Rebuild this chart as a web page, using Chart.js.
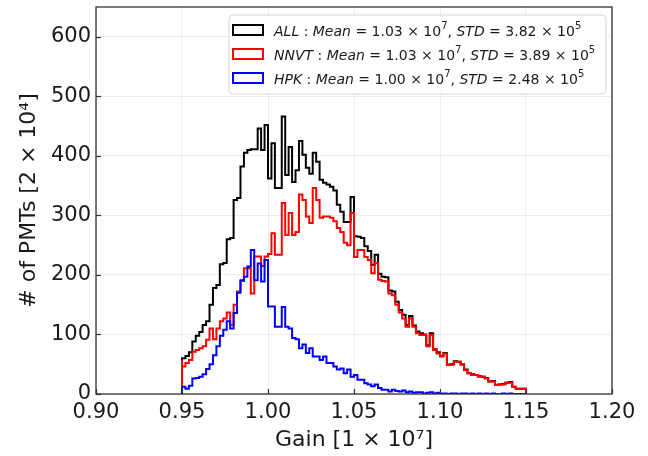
<!DOCTYPE html>
<html>
<head>
<meta charset="utf-8">
<script src="https://cdn.jsdelivr.net/npm/chart.js@4.4.0/dist/chart.umd.min.js"></script>
<style>
  html, body { margin: 0; padding: 0; background: #ffffff; }
  #wrap { width: 648px; height: 456px; }
</style>
</head>
<body>
<div id="wrap"><canvas id="c" width="648" height="456"></canvas></div>
<script>
// ---- data ----
const binEdges = [0.950,0.952,0.954,0.956,0.958,0.960,0.962,0.964,0.966,0.968,
  0.970,0.972,0.974,0.976,0.978,0.980,0.982,0.984,0.986,0.988,
  0.990,0.992,0.994,0.996,0.998,1.000,1.002,1.004,1.006,1.008,
  1.010,1.012,1.014,1.016,1.018,1.020,1.022,1.024,1.026,1.028,
  1.030,1.032,1.034,1.036,1.038,1.040,1.042,1.044,1.046,1.048,
  1.050,1.052,1.054,1.056,1.058,1.060,1.062,1.064,1.066,1.068,
  1.070,1.072,1.074,1.076,1.078,1.080,1.082,1.084,1.086,1.088,
  1.090,1.092,1.094,1.096,1.098,1.100,1.102,1.104,1.106,1.108,
  1.110,1.112,1.114,1.116,1.118,1.120,1.122,1.124,1.126,1.128,
  1.130,1.132,1.134,1.136,1.138,1.140,1.142,1.144,1.146,1.148,1.150];

const allCounts = [58,60,64,70,88,98,104,116,122,150,
  178,183,218,220,260,262,326,329,382,405,
  410,411,411,446,410,452,362,421,346,346,
  466,368,415,356,376,425,402,380,370,405,
  390,360,355,352,348,342,318,306,289,289,
  331,265,264,262,248,240,217,234,202,197,
  196,174,172,155,141,133,116,131,115,105,
  102,100,82,102,75,70,64,69,49,50,
  55,54,50,41,35,33,32,30,29,27,
  21,22,15,16,17,19,20,12,9,9];

const nnvtCounts = [57,46,52,57,71,74,77,80,91,110,
  92,110,122,127,137,116,150,172,190,211,
  211,169,231,231,215,231,235,270,234,234,
  321,267,304,267,272,335,326,298,287,346,
  326,296,298,298,296,290,279,272,254,250,
  304,230,242,242,230,225,203,220,192,190,
  189,169,166,150,137,127,113,127,113,102,
  99,99,80,99,74,68,63,68,49,49,
  54,54,49,40,35,32,32,29,29,26,
  21,21,15,16,16,19,19,12,9,9];

const hpkCounts = [2,12,9,14,26,27,29,33,42,50,
  65,80,98,108,122,110,136,170,191,197,
  214,242,191,219,189,225,147,147,113,113,
  146,113,110,94,92,77,83,69,77,63,
  63,57,63,52,52,46,41,43,35,41,
  29,32,24,24,18,16,13,16,10,7,
  7,4,7,5,4,6,3,4,2,3,
  3,1,2,3,1,2,1,1,0,1,
  1,0,1,1,0,1,0,1,0,1,
  0,1,0,0,1,0,1,0,0,0];

const seriesNames = ['ALL', 'NNVT', 'HPK'];
const seriesColors = ['#000000', '#ff0000', '#0000ff'];
const meanValues = ['1.03', '1.03', '1.00'];
const stdValues = ['3.82', '3.89', '2.48'];
const meanExp = '7';
const stdExp = '5';

const xTickValues = [0.90, 0.95, 1.00, 1.05, 1.10, 1.15, 1.20];
const yTickValues = [0, 100, 200, 300, 400, 500, 600];
const xTitle = 'Gain [1 \u00d7 10\u2077]';
const yTitle = '# of PMTs [2 \u00d7 10\u2074]';

// ---- build step outlines from bin edges + counts ----
function stepPoints(counts) {
  const pts = [{ x: binEdges[0], y: 0 }];
  for (let i = 0; i < counts.length; i++) pts.push({ x: binEdges[i], y: counts[i] });
  pts.push({ x: binEdges[counts.length], y: counts[counts.length - 1] });
  pts.push({ x: binEdges[counts.length], y: 0 });
  return pts;
}

const FONT = "'DejaVu Sans', 'Liberation Sans', sans-serif";

const framePlugin = {
  id: 'frame',
  afterDatasetsDraw(chart) {
    const { ctx, chartArea: a, scales } = chart;
    ctx.save();
    // inward tick marks
    ctx.strokeStyle = '#333333';
    ctx.lineWidth = 1.2;
    xTickValues.forEach(v => {
      const px = Math.round(scales.x.getPixelForValue(v)) + 0.5;
      ctx.beginPath(); ctx.moveTo(px, a.bottom); ctx.lineTo(px, a.bottom - 5); ctx.stroke();
    });
    yTickValues.forEach(v => {
      const py = Math.round(scales.y.getPixelForValue(v)) + 0.5;
      ctx.beginPath(); ctx.moveTo(a.left, py); ctx.lineTo(a.left + 5, py); ctx.stroke();
    });
    // frame
    ctx.lineWidth = 1.3;
    ctx.strokeRect(a.left, a.top, a.right - a.left, a.bottom - a.top);

    // legend
    const bx = 229, by = 15, bw = 377, bh = 79, r = 4;
    ctx.beginPath();
    ctx.moveTo(bx + r, by);
    ctx.arcTo(bx + bw, by, bx + bw, by + bh, r);
    ctx.arcTo(bx + bw, by + bh, bx, by + bh, r);
    ctx.arcTo(bx, by + bh, bx, by, r);
    ctx.arcTo(bx, by, bx + bw, by, r);
    ctx.closePath();
    ctx.fillStyle = 'rgba(255,255,255,0.85)';
    ctx.fill();
    ctx.strokeStyle = '#d6d6d6';
    ctx.lineWidth = 1;
    ctx.stroke();

    const fs = 14;
    const rowY = [30, 54, 78];
    seriesNames.forEach((name, i) => {
      const cy = rowY[i];
      ctx.strokeStyle = seriesColors[i];
      ctx.lineWidth = 2;
      ctx.strokeRect(233, cy - 5, 30, 10);
      const segs = [
        { t: name, it: true }, { t: ' : ' }, { t: 'Mean', it: true },
        { t: ' = ' + meanValues[i] + ' \u00d7 10' }, { t: meanExp, sup: true },
        { t: ', ' }, { t: 'STD', it: true },
        { t: ' = ' + stdValues[i] + ' \u00d7 10' }, { t: stdExp, sup: true }
      ];
      let x = 274;
      ctx.fillStyle = '#1a1a1a';
      ctx.textBaseline = 'alphabetic';
      ctx.textAlign = 'left';
      segs.forEach(s => {
        const size = s.sup ? Math.round(fs * 0.7) : fs;
        ctx.font = (s.it ? 'italic ' : '') + size + 'px ' + FONT;
        const yy = cy + 6 + (s.sup ? -7 : 0);
        ctx.fillText(s.t, x, yy);
        x += ctx.measureText(s.t).width;
      });
    });
    ctx.restore();
  }
};

const datasets = [allCounts, nnvtCounts, hpkCounts].map((counts, i) => ({
  label: seriesNames[i],
  data: stepPoints(counts),
  borderColor: seriesColors[i],
  backgroundColor: seriesColors[i],
  borderWidth: 2,
  pointRadius: 0,
  fill: false,
  stepped: 'after',
  tension: 0,
  order: 3 - i
}));

new Chart(document.getElementById('c'), {
  type: 'line',
  data: { datasets },
  plugins: [framePlugin],
  options: {
    responsive: false,
    animation: false,
    events: [],
    layout: { padding: { top: 7, right: 36, left: 0, bottom: 0 } },
    plugins: { legend: { display: false }, tooltip: { enabled: false } },
    scales: {
      x: {
        type: 'linear',
        min: 0.90, max: 1.20,
        afterBuildTicks: s => { s.ticks = xTickValues.map(v => ({ value: v })); },
        afterFit: s => { s.height = 62; s.paddingLeft = 0; s.paddingRight = 0; },
        ticks: {
          callback: v => Number(v).toFixed(2),
          color: '#1a1a1a', font: { family: FONT, size: 21 }, padding: 6, maxRotation: 0, autoSkip: false
        },
        grid: { color: 'rgba(0,0,0,0.07)', lineWidth: 1, drawTicks: false },
        border: { display: false },
        title: { display: true, text: xTitle, color: '#1a1a1a', font: { family: FONT, size: 22 }, padding: { top: 0, bottom: 3 } }
      },
      y: {
        type: 'linear',
        min: 0, max: 650,
        afterBuildTicks: s => { s.ticks = yTickValues.map(v => ({ value: v })); },
        afterFit: s => { s.width = 96; s.paddingTop = 0; s.paddingBottom = 0; },
        ticks: {
          color: '#1a1a1a', font: { family: FONT, size: 21 }, padding: 5, autoSkip: false
        },
        grid: { color: 'rgba(0,0,0,0.07)', lineWidth: 1, drawTicks: false },
        border: { display: false },
        title: { display: true, text: yTitle, color: '#1a1a1a', font: { family: FONT, size: 22 }, padding: { top: 16, bottom: 0 } }
      }
    }
  }
});
</script>
</body>
</html>
